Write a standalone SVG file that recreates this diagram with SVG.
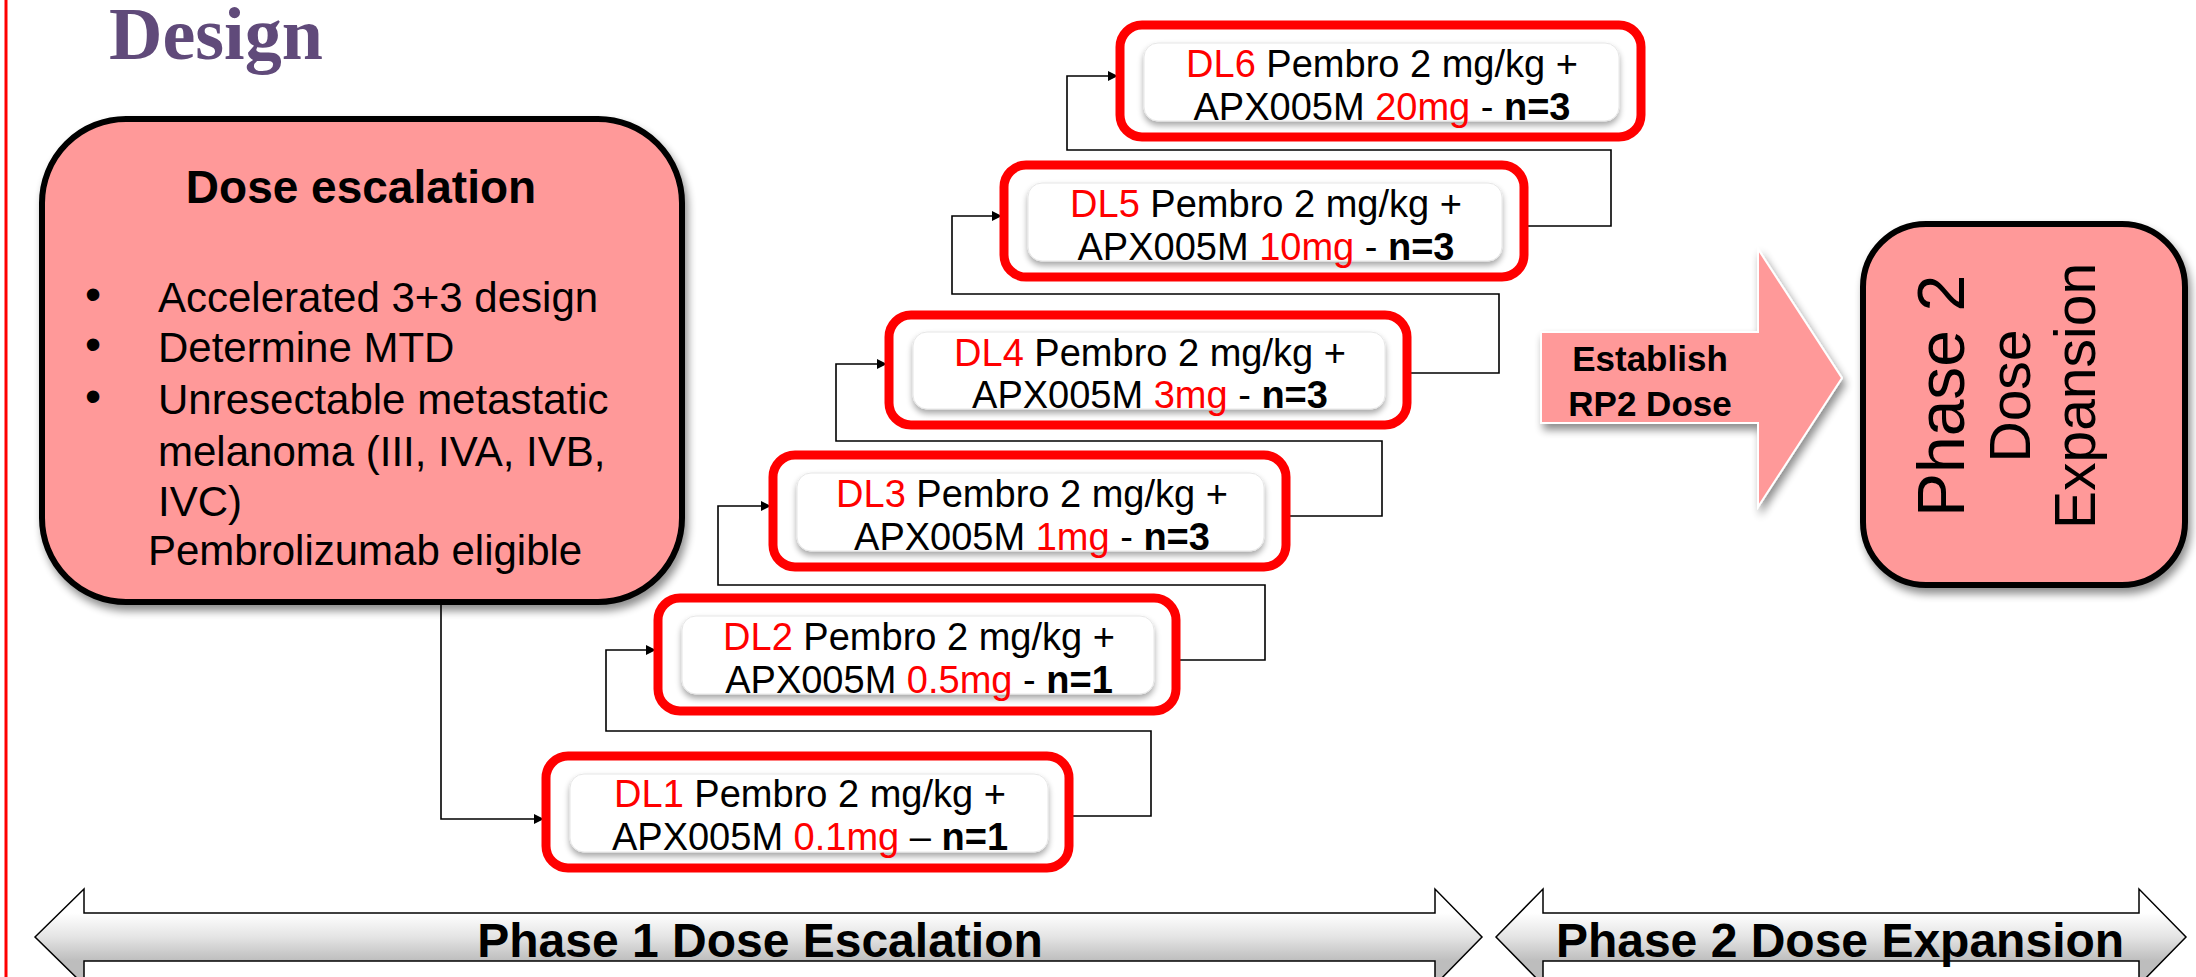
<svg xmlns="http://www.w3.org/2000/svg" width="2196" height="977" viewBox="0 0 2196 977">
<style>
.sans{font-family:"Liberation Sans",Arial,sans-serif}
.dl{font-family:"Liberation Sans",Arial,sans-serif;font-size:38px;fill:#000;text-anchor:middle}
.red{fill:#FF0000}
.b{font-weight:bold}
.outer{fill:#fff;stroke:#FF0000;stroke-width:9}
.inner{fill:#fff;stroke:#e6e6e6;stroke-width:1}
.con{fill:none;stroke:#000;stroke-width:1.6}
.pink{fill:#FF9999;stroke:#000;stroke-width:6}
.band{stroke:#000;stroke-width:1.5}
.bandtxt{font-family:"Liberation Sans",Arial,sans-serif;font-size:48px;font-weight:bold;text-anchor:middle}
.bul{font-family:"Liberation Sans",Arial,sans-serif;font-size:46px;text-anchor:middle}
</style>
<defs>
<marker id="ah" markerWidth="10" markerHeight="10" refX="9" refY="5" orient="auto" markerUnits="userSpaceOnUse" viewBox="0 0 10 10">
<path d="M0,0 L10,5 L0,10 Z" fill="#000"/>
</marker>
<filter id="sh" x="-10%" y="-10%" width="125%" height="135%">
<feGaussianBlur in="SourceAlpha" stdDeviation="4"/>
<feOffset dx="3" dy="6" result="o"/>
<feComponentTransfer><feFuncA type="linear" slope="0.45"/></feComponentTransfer>
<feMerge><feMergeNode/><feMergeNode in="SourceGraphic"/></feMerge>
</filter>
<filter id="shs" x="-5%" y="-10%" width="110%" height="140%">
<feGaussianBlur in="SourceAlpha" stdDeviation="3"/>
<feOffset dx="0" dy="4" result="o"/>
<feComponentTransfer><feFuncA type="linear" slope="0.35"/></feComponentTransfer>
<feMerge><feMergeNode/><feMergeNode in="SourceGraphic"/></feMerge>
</filter>
<linearGradient id="silver" x1="0" y1="913" x2="0" y2="961" gradientUnits="userSpaceOnUse">
<stop offset="0" stop-color="#FFFFFF"/>
<stop offset="0.5" stop-color="#E4E4E4"/>
<stop offset="1" stop-color="#BDBDBD"/>
</linearGradient>
</defs>

<rect width="2196" height="977" fill="#fff"/>
<line x1="6" y1="0" x2="6" y2="977" stroke="#FF0000" stroke-width="3"/>

<text x="109" y="59" font-family="'Liberation Serif','Times New Roman',serif" font-size="74" font-weight="bold" fill="#604A7A">Design</text>

<g id="connectors">
<path class="con" d="M441,602 V819 H543" marker-end="url(#ah)"/>
<path class="con" d="M1069,816 H1151 V731 H606 V650 H655" marker-end="url(#ah)"/>
<path class="con" d="M1176,660 H1265 V585 H718 V506 H770" marker-end="url(#ah)"/>
<path class="con" d="M1286,516 H1382 V441 H836 V364 H886" marker-end="url(#ah)"/>
<path class="con" d="M1407,373 H1499 V294 H952 V216 H1001" marker-end="url(#ah)"/>
<path class="con" d="M1524,226 H1611 V150 H1067 V76 H1117" marker-end="url(#ah)"/>
</g>

<g id="dose-escalation">
<rect x="42" y="119" width="640" height="483" rx="84" class="pink" filter="url(#sh)"/>
<text x="361" y="203" class="sans b" font-size="46" text-anchor="middle">Dose escalation</text>
<text x="93" y="310" class="bul">•</text>
<text x="93" y="360" class="bul">•</text>
<text x="93" y="412" class="bul">•</text>
<g class="sans" font-size="42">
<text x="158" y="312">Accelerated 3+3 design</text>
<text x="158" y="362">Determine MTD</text>
<text x="158" y="414">Unresectable metastatic</text>
<text x="158" y="466">melanoma (III, IVA, IVB,</text>
<text x="158" y="516">IVC)</text>
<text x="148" y="565">Pembrolizumab eligible</text>
</g>
</g>

<g id="dl1">
<rect x="546" y="756" width="523" height="112" rx="22" class="outer"/>
<rect x="570" y="774" width="478" height="78" rx="14" class="inner" filter="url(#shs)"/>
<text class="dl" x="810" y="807"><tspan class="red">DL1</tspan> Pembro 2 mg/kg +</text>
<text class="dl" x="810" y="850">APX005M <tspan class="red">0.1mg</tspan> – <tspan class="b">n=1</tspan></text>
</g>
<g id="dl2">
<rect x="658" y="598" width="518" height="113" rx="22" class="outer"/>
<rect x="682" y="616" width="472" height="78" rx="14" class="inner" filter="url(#shs)"/>
<text class="dl" x="919" y="650"><tspan class="red">DL2</tspan> Pembro 2 mg/kg +</text>
<text class="dl" x="919" y="693">APX005M <tspan class="red">0.5mg</tspan> - <tspan class="b">n=1</tspan></text>
</g>
<g id="dl3">
<rect x="773" y="455" width="513" height="112" rx="22" class="outer"/>
<rect x="797" y="473" width="467" height="78" rx="14" class="inner" filter="url(#shs)"/>
<text class="dl" x="1032" y="507"><tspan class="red">DL3</tspan> Pembro 2 mg/kg +</text>
<text class="dl" x="1032" y="550">APX005M <tspan class="red">1mg</tspan> - <tspan class="b">n=3</tspan></text>
</g>
<g id="dl4">
<rect x="889" y="315" width="518" height="110" rx="22" class="outer"/>
<rect x="913" y="332" width="472" height="77" rx="14" class="inner" filter="url(#shs)"/>
<text class="dl" x="1150" y="366"><tspan class="red">DL4</tspan> Pembro 2 mg/kg +</text>
<text class="dl" x="1150" y="408">APX005M <tspan class="red">3mg</tspan> - <tspan class="b">n=3</tspan></text>
</g>
<g id="dl5">
<rect x="1004" y="165" width="520" height="112" rx="22" class="outer"/>
<rect x="1028" y="183" width="474" height="78" rx="14" class="inner" filter="url(#shs)"/>
<text class="dl" x="1266" y="217"><tspan class="red">DL5</tspan> Pembro 2 mg/kg +</text>
<text class="dl" x="1266" y="260">APX005M <tspan class="red">10mg</tspan> - <tspan class="b">n=3</tspan></text>
</g>
<g id="dl6">
<rect x="1120" y="25" width="521" height="112" rx="22" class="outer"/>
<rect x="1144" y="43" width="475" height="78" rx="14" class="inner" filter="url(#shs)"/>
<text class="dl" x="1382" y="77"><tspan class="red">DL6</tspan> Pembro 2 mg/kg +</text>
<text class="dl" x="1382" y="120">APX005M <tspan class="red">20mg</tspan> - <tspan class="b">n=3</tspan></text>
</g>

<g id="establish">
<path d="M1541,332 L1758,332 L1758,249 L1842,378 L1758,507 L1758,423 L1541,423 Z" fill="#FF9999" stroke="#fff" stroke-width="2" filter="url(#sh)"/>
<text x="1650" y="371" class="sans b" font-size="35" text-anchor="middle">Establish</text>
<text x="1650" y="416" class="sans b" font-size="35" text-anchor="middle">RP2 Dose</text>
</g>

<g id="phase2-box">
<rect x="1863" y="224" width="322" height="361" rx="63" class="pink" filter="url(#sh)"/>
<text transform="translate(1964,396) rotate(-90)" class="sans" font-size="66" text-anchor="middle">Phase 2</text>
<text transform="translate(2030,396) rotate(-90)" class="sans" font-size="57" text-anchor="middle">Dose</text>
<text transform="translate(2095,396) rotate(-90)" class="sans" font-size="57" text-anchor="middle">Expansion</text>
</g>

<g id="phase1-band">
<path class="band" fill="url(#silver)" d="M35,937 L84,889 L84,913 L1435,913 L1435,889 L1482,937 L1435,985 L1435,961 L84,961 L84,985 Z"/>
<text x="760" y="957" class="bandtxt">Phase 1 Dose Escalation</text>
</g>
<g id="phase2-band">
<path class="band" fill="url(#silver)" d="M1496,937 L1543,889 L1543,913 L2139,913 L2139,889 L2186,937 L2139,985 L2139,961 L1543,961 L1543,985 Z"/>
<text x="1840" y="957" class="bandtxt">Phase 2 Dose Expansion</text>
</g>
</svg>
